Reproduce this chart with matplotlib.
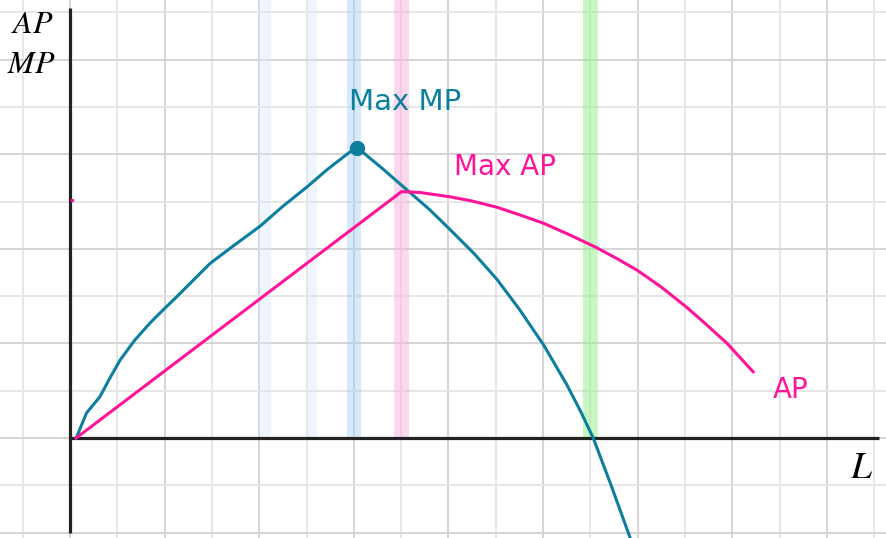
import numpy as np
import matplotlib
matplotlib.use("Agg")
import matplotlib.pyplot as plt

plt.rcParams['mathtext.fontset'] = 'stix'

# marginal product (hand drawn curve) in grid units
mp_x = [0.13, 0.35, 0.63, 0.85, 1.06, 1.37, 1.69, 2.0, 2.26, 2.6, 2.96, 3.45, 4.02, 4.5,
        5.0, 5.43, 5.92, 6.08,
        6.6, 7.15, 7.6, 8.03, 8.55, 9.02, 9.5, 10.01, 10.5, 10.8, 11.06, 11.42, 11.84, 11.95]
mp_y = [0.0, 0.53, 0.87, 1.28, 1.65, 2.07, 2.43, 2.74, 2.99, 3.33, 3.69, 4.06, 4.48, 4.9,
        5.3, 5.67, 6.05, 6.13,
        5.70, 5.22, 4.83, 4.41, 3.89, 3.36, 2.72, 1.97, 1.13, 0.55, 0.0, -0.95, -2.11, -2.45]

# average product
ap_x = [0.13, 7.01, 7.4, 8.03, 8.5, 9.02, 9.5, 10.01, 10.55, 11.1, 11.55, 12.0, 12.5,
        13.04, 13.45, 13.89, 14.44]
ap_y = [0.0, 5.21, 5.19, 5.10, 5.01, 4.88, 4.72, 4.54, 4.30, 4.04, 3.80, 3.54, 3.19,
        2.76, 2.40, 2.0, 1.40]

max_mp = (6.07, 6.13)

# highlighted columns (left, right, colour)
band_left = [4.0, 5.0, 5.85, 6.84, 10.84]
band_right = [4.25, 5.23, 6.15, 7.16, 11.16]
band_col = ['#dbe9fb', '#dbe9fb', '#a9d0f5', '#f7b3de', '#9ef294']
band_alpha = [0.45, 0.45, 0.45, 0.5, 0.55]

teal = '#0b7f9d'
pink = '#ff1499'

fig = plt.figure(figsize=(8.87, 5.38), dpi=100)
ax = fig.add_axes([0, 0, 1, 1])
x0, x1 = -1.48, 17.27
y0, y1 = -2.114, 9.26
ax.set_xlim(x0, x1)
ax.set_ylim(y0, y1)
ax.axis('off')

# grid paper
for gx in range(-1, 18):
    c = '#d4d4d4' if gx % 2 == 0 else '#e6e6e6'
    ax.axvline(gx, color=c, lw=1.4, zorder=0)
for gy in range(-2, 10):
    c = '#d4d4d4' if gy % 2 == 0 else '#e6e6e6'
    ax.axhline(gy, color=c, lw=1.4, zorder=0)

for l, r, c, a in zip(band_left, band_right, band_col, band_alpha):
    ax.fill_between([l, r], 0, y1, color=c, alpha=a, lw=0, zorder=1)

# axes
ax.plot([0, 0], [-2.0, 9.09], color='#222222', lw=2.3, zorder=3, solid_capstyle='butt')
ax.plot([0, 17.1], [0, 0], color='#222222', lw=2.3, zorder=3, solid_capstyle='butt')

ax.plot(mp_x, mp_y, color=teal, lw=2.2, zorder=4, solid_joinstyle='round')
ax.plot(ap_x, ap_y, color=pink, lw=2.2, zorder=4, solid_joinstyle='round')
ax.plot(*max_mp, 'o', color=teal, ms=10, zorder=5)
ax.plot(0.04, 5.03, 's', color=pink, ms=2, zorder=5)

hand = dict(family='DejaVu Sans', ha='center', va='center')
ax.text(7.08, 7.11, 'Max MP', color=teal, fontsize=21, **hand)
ax.text(9.2, 5.72, 'Max AP', color=pink, fontsize=20, **hand)
ax.text(15.24, 1.01, 'AP', color=pink, fontsize=20, **hand)

ax.text(-0.8, 8.75, r'$AP$', fontsize=23, ha='center', va='center')
ax.text(-0.82, 7.9, r'$MP$', fontsize=23, ha='center', va='center')
ax.text(16.74, -0.63, r'$L$', fontsize=27, ha='center', va='center')

fig.savefig('out.png', dpi=100)
